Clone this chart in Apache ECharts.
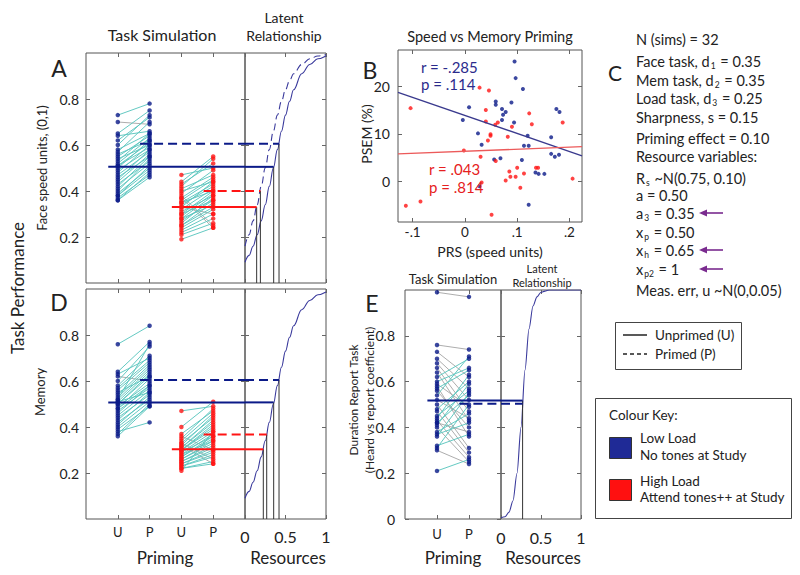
<!DOCTYPE html>
<html><head><meta charset="utf-8">
<script src="https://cdn.jsdelivr.net/npm/echarts@6/dist/echarts.min.js"></script>
<style>html,body{margin:0;padding:0;background:#fff}#c{width:800px;height:575px}</style>
</head><body><div id="c"></div>
<script>
// ---------------- DATA ----------------
const primingCats = ['U', 'P', 'U', 'P'];
const resourceTicks = [0, 0.5, 1];
const perfTicks = [0.2, 0.4, 0.6, 0.8];
const perfTicksE = [0, 0.2, 0.4, 0.6, 0.8];

// Panel A (Face speed units)
const aLowU  = [0.73,0.70,0.65,0.64,0.62,0.60,0.58,0.57,0.56,0.55,0.54,0.53,0.52,0.51,0.51,0.50,0.49,0.48,0.47,0.46,0.45,0.44,0.43,0.42,0.41,0.40,0.39,0.38,0.38,0.37,0.36,0.36];
const aLowP  = [0.78,0.69,0.75,0.66,0.72,0.73,0.65,0.70,0.62,0.64,0.60,0.65,0.63,0.59,0.61,0.62,0.58,0.60,0.57,0.55,0.58,0.56,0.53,0.55,0.52,0.54,0.50,0.51,0.49,0.47,0.48,0.46];
const aHighU = [0.47,0.44,0.43,0.42,0.41,0.40,0.39,0.38,0.37,0.37,0.36,0.35,0.35,0.34,0.33,0.33,0.32,0.31,0.30,0.30,0.29,0.28,0.28,0.27,0.26,0.25,0.25,0.24,0.23,0.22,0.21,0.19];
const aHighP = [0.50,0.55,0.52,0.54,0.47,0.44,0.49,0.25,0.46,0.24,0.45,0.43,0.40,0.42,0.30,0.44,0.41,0.38,0.40,0.36,0.39,0.38,0.34,0.36,0.37,0.35,0.33,0.32,0.30,0.28,0.26,0.24];
// mean levels: lowU, lowP, highU, highP ; resources where they meet the latent curve
const aMeanLevels = [0.505, 0.605, 0.33, 0.40];
const aMeanResources = [0.354, 0.42, 0.144, 0.19];

// Panel D (Memory)
const dLowU  = [0.76,0.64,0.63,0.62,0.60,0.58,0.57,0.56,0.55,0.54,0.53,0.52,0.52,0.51,0.51,0.50,0.50,0.49,0.48,0.48,0.47,0.46,0.45,0.44,0.43,0.42,0.41,0.40,0.39,0.38,0.37,0.36];
const dLowP  = [0.84,0.77,0.70,0.60,0.75,0.71,0.69,0.68,0.62,0.67,0.66,0.76,0.65,0.64,0.55,0.63,0.62,0.59,0.58,0.61,0.57,0.58,0.56,0.54,0.55,0.52,0.53,0.51,0.49,0.42,0.50,0.49];
const dHighU = [0.47,0.40,0.37,0.36,0.35,0.34,0.33,0.33,0.32,0.32,0.31,0.31,0.30,0.30,0.30,0.29,0.29,0.28,0.28,0.27,0.27,0.26,0.26,0.25,0.25,0.24,0.24,0.23,0.23,0.22,0.22,0.21];
const dHighP = [0.49,0.51,0.47,0.30,0.48,0.46,0.26,0.44,0.24,0.45,0.43,0.42,0.41,0.40,0.39,0.38,0.36,0.37,0.34,0.35,0.36,0.33,0.34,0.31,0.32,0.30,0.29,0.27,0.28,0.24,0.25,0.38];
const dMeanLevels = [0.507, 0.604, 0.303, 0.367];
const dMeanResources = [0.354, 0.42, 0.226, 0.268];

// Panel E (Duration report task)
const eLowU = [0.99,0.76,0.73,0.70,0.68,0.66,0.64,0.62,0.60,0.59,0.58,0.57,0.56,0.54,0.52,0.50,0.48,0.47,0.45,0.44,0.43,0.42,0.42,0.41,0.40,0.38,0.37,0.36,0.32,0.31,0.30,0.21];
const eLowP = [0.97,0.74,0.62,0.57,0.52,0.47,0.43,0.70,0.66,0.49,0.36,0.65,0.40,0.71,0.44,0.31,0.60,0.29,0.56,0.63,0.27,0.54,0.38,0.59,0.25,0.46,0.42,0.55,0.37,0.50,0.24,0.26];
const eMeanLevels = [0.517, 0.503];
const eMeanResources = [0.27, 0.27];

// Latent curves
const latentX      = [0,0.05,0.1,0.15,0.2,0.25,0.3,0.35,0.4,0.45,0.5,0.55,0.6,0.7,0.8,0.9,1];
const curveUnprimed = [0.09,0.12,0.16,0.21,0.27,0.34,0.42,0.50,0.58,0.66,0.73,0.79,0.84,0.91,0.95,0.975,0.987];
const curvePrimedA  = [0.16,0.21,0.27,0.34,0.42,0.50,0.58,0.66,0.73,0.79,0.84,0.88,0.91,0.95,0.975,0.987,0.993];
const curveE        = [0.005,0.01,0.03,0.08,0.2,0.4,0.65,0.83,0.93,0.97,0.99,0.995,1,1,1,1,1];

// Panel B scatter: [PRS, PSEM]
const bLow = [[0.095,25.2],[0.097,21.7],[0.111,19.4],[0.008,15.6],[-0.004,12.9],[0.059,16.8],[0.059,16.1],[0.071,15.2],[0.078,14.6],[0.089,16.6],[0.175,15.2],[0.181,14.6],[0.094,12.4],[0.071,12.9],[0.025,10.1],[0.120,9.6],[0.165,9.3],[0.032,7.7],[0.113,7.5],[0.122,7.5],[0.165,5.8],[0.172,5.2],[0.180,5.6],[0.068,4.9],[0.056,4.6],[0.109,4.5],[0.135,1.9],[0.141,1.6],[0.152,1.6],[0.028,-1.0],[0.122,-4.9],[0.073,14.0]];
const bHigh = [[-0.113,-5.1],[-0.085,-4.2],[-0.104,15.4],[-0.002,6.5],[0.028,19.7],[0.046,19.1],[0.040,15.0],[0.040,12.6],[0.058,11.9],[0.063,12.4],[0.030,5.2],[0.044,8.6],[0.049,9.6],[0.049,9.9],[0.059,4.3],[0.090,11.5],[0.082,9.4],[0.128,12.0],[0.123,14.3],[0.187,12.4],[0.206,0.6],[0.100,2.9],[0.097,1.0],[0.085,2.1],[0.078,0.2],[0.087,1.0],[0.113,1.7],[0.106,-1.3],[0.136,2.9],[0.140,2.9],[0.032,-0.2],[0.051,-7.0]];
const bLowFit = [[-0.128,18.7],[0.224,5.4]];
const bHighFit = [[-0.128,5.8],[0.224,7.3]];
const bXTicks = [-0.1, 0, 0.1, 0.2];
const bYTicks = [0, 10, 20];

// ---------------- STYLE ----------------
const FONT = 'Lato, "Open Sans", sans-serif';
const TXT = '#222';
const NAVY = '#0b1a88';
const RED = '#ff1414';
const TEAL = '#5cc6bf';
const GRAY = '#a9a9a9';
const CURVE = '#3a3a9c';
const START = 0.3;

const grids = [
  {left:86, top:53, width:159, height:230},   // 0 A task
  {left:245, top:53, width:81, height:230},   // 1 A latent
  {left:398, top:50, width:184, height:172},  // 2 B
  {left:86, top:289, width:159, height:230},  // 3 D task
  {left:245, top:289, width:81, height:230},  // 4 D latent
  {left:405, top:290, width:96, height:229},  // 5 E task
  {left:501, top:290, width:80, height:229}   // 6 E latent
].map(g => Object.assign(g, {show:true, borderColor:'#555', borderWidth:1, backgroundColor:'transparent', containLabel:false}));

const xAxes = [], yAxes = [];
function tick(vals){ return {show:true, inside:true, length:4, customValues:vals, lineStyle:{color:'#666', width:1}}; }
function addAxes(gi, xr, xt, xlab, xLabStyle, yr, yt, ylab, yLabStyle) {
  const base = {type:'value', axisLine:{show:false, onZero:false}, splitLine:{show:false}, axisPointer:{show:false}};
  xAxes.push(Object.assign({}, base, {gridIndex:gi, position:'bottom', min:xr[0], max:xr[1], axisTick:tick(xt),
    axisLabel: xlab ? Object.assign({show:true, customValues:xt, formatter:xlab, color:TXT, fontFamily:FONT}, xLabStyle) : {show:false}}));
  xAxes.push(Object.assign({}, base, {gridIndex:gi, position:'top', min:xr[0], max:xr[1], axisTick:tick(xt), axisLabel:{show:false}}));
  yAxes.push(Object.assign({}, base, {gridIndex:gi, position:'left', min:yr[0], max:yr[1], axisTick:tick(yt),
    axisLabel: ylab ? Object.assign({show:true, customValues:yt, formatter:ylab, color:TXT, fontFamily:FONT}, yLabStyle) : {show:false}}));
  yAxes.push(Object.assign({}, base, {gridIndex:gi, position:'right', min:yr[0], max:yr[1], axisTick:tick(yt), axisLabel:{show:false}}));
}
const catFmt = v => primingCats[Math.round(v) - 1] || '';
const perfFmt = v => v === 0 ? '0' : v.toFixed(1);
const resFmt = v => String(v);
const bxFmt = v => v === 0 ? '0' : (v < 0 ? '-' + String(Math.abs(v)).replace(/^0/, '') : String(v).replace(/^0/, ''));

addAxes(0, [0,5], [1,2,3,4], null, null, [0,1], perfTicks, perfFmt, {fontSize:14, margin:7});
addAxes(1, [0,1], resourceTicks, null, null, [0,1], perfTicks, null, null);
addAxes(2, [-0.128,0.224], bXTicks, bxFmt, {fontSize:13.5, margin:3, lineHeight:14}, [-8.5,27.6], bYTicks, v => String(v), {fontSize:14, margin:8});
addAxes(3, [0,5], [1,2,3,4], catFmt, {fontSize:13, margin:6}, [0,1], perfTicks, perfFmt, {fontSize:14, margin:7});
addAxes(4, [0,1], resourceTicks, resFmt, {fontSize:16, margin:9}, [0,1], perfTicks, null, null);
addAxes(5, [0,3], [1,2], catFmt, {fontSize:13, margin:8}, [0,1], perfTicksE, perfFmt, {fontSize:14, margin:10});
addAxes(6, [0,1], resourceTicks, resFmt, {fontSize:16, margin:10}, [0,1], perfTicks, null, null);

const series = [];
function ax(gi){ return {xAxisIndex:2*gi, yAxisIndex:2*gi}; }
function pairLines(us, ps, xu, xp, gi, up) {
  const data = [];
  us.forEach((u, i) => { const p = ps[i]; if ((p >= u) === up) data.push({coords:[[xu,u],[xp,p]]}); });
  series.push(Object.assign({type:'lines', coordinateSystem:'cartesian2d', data, silent:true, z:2,
    lineStyle:{color: up ? TEAL : GRAY, width:1, opacity:0.95, curveness:0}}, ax(gi)));
}
function dots(vals, x, gi, color) {
  series.push(Object.assign({type:'scatter', data: vals.map(v => [x, v]), symbolSize:4.5, itemStyle:{color}, silent:true, z:3}, ax(gi)));
}
function seg(points, gi, color, width, type, z) {
  series.push(Object.assign({type:'line', data:points, symbol:'none', silent:true, z: z || 4,
    lineStyle:{color, width, type: type || 'solid'}}, ax(gi)));
}
function curve(ys, gi, type) {
  series.push(Object.assign({type:'line', data: latentX.map((x, i) => [x, ys[i]]), symbol:'none', smooth:0.4, smoothMonotone:'x', silent:true, z:3,
    lineStyle:{color:CURVE, width:1.1, type: type || 'solid'}}, ax(gi)));
}
function taskPanel(gt, gl, lowU, lowP, highU, highP, levels, res, withPrimedCurve) {
  pairLines(lowU, lowP, 1, 2, gt, false); pairLines(lowU, lowP, 1, 2, gt, true);
  pairLines(highU, highP, 3, 4, gt, false); pairLines(highU, highP, 3, 4, gt, true);
  dots(lowU, 1, gt, NAVY); dots(lowP, 2, gt, NAVY); dots(highU, 3, gt, RED); dots(highP, 4, gt, RED);
  curve(curveUnprimed, gl);
  if (withPrimedCurve) curve(curvePrimedA, gl, [7, 4]);
  const cols = [NAVY, NAVY, RED, RED], xs = [1, 2, 3, 4], dash = ['solid', [9, 5], 'solid', [9, 5]];
  levels.forEach((m, i) => {
    seg([[xs[i] - START, m], [5, m]], gt, cols[i], 2, dash[i], 5);
    seg([[0, m], [res[i], m]], gl, cols[i], 2, dash[i], 5);
    seg([[res[i], m], [res[i], 0]], gl, '#333', 1, 'solid', 4);
  });
}
taskPanel(0, 1, aLowU, aLowP, aHighU, aHighP, aMeanLevels, aMeanResources, true);
taskPanel(3, 4, dLowU, dLowP, dHighU, dHighP, dMeanLevels, dMeanResources, false);

// Panel E
pairLines(eLowU, eLowP, 1, 2, 5, false); pairLines(eLowU, eLowP, 1, 2, 5, true);
dots(eLowU, 1, 5, NAVY); dots(eLowP, 2, 5, NAVY);
series.push(Object.assign({type:'line', data: latentX.map((x, i) => [x, curveE[i]]), symbol:'none', smooth:0.3, smoothMonotone:'x', silent:true, z:3,
  lineStyle:{color:CURVE, width:1.1}}, ax(6)));
seg([[1 - START, eMeanLevels[0]], [3, eMeanLevels[0]]], 5, NAVY, 2, 'solid', 5);
seg([[0, eMeanLevels[0]], [eMeanResources[0], eMeanLevels[0]]], 6, NAVY, 2, 'solid', 5);
seg([[2 - START, eMeanLevels[1]], [3, eMeanLevels[1]]], 5, NAVY, 2, [9, 5], 5);
seg([[0, eMeanLevels[1]], [eMeanResources[1], eMeanLevels[1]]], 6, NAVY, 2, [9, 5], 5);
seg([[eMeanResources[0], eMeanLevels[0]], [eMeanResources[0], 0]], 6, '#333', 1, 'solid', 4);

// Panel B
series.push(Object.assign({type:'scatter', data:bLow, symbolSize:4, itemStyle:{color:NAVY}, silent:true, z:3}, ax(2)));
series.push(Object.assign({type:'scatter', data:bHigh, symbolSize:4, itemStyle:{color:RED}, silent:true, z:3}, ax(2)));
seg(bLowFit, 2, '#3a3a8e', 1.3, 'solid', 4);
seg(bHighFit, 2, '#ec5a5a', 1.3, 'solid', 4);

// ---------------- TEXT / ANNOTATIONS ----------------
const g = [];
function t(text, x, y, size, opts) {
  const o = opts || {};
  g.push({type:'text', x, y, rotation: o.rot || 0, z: 100,
    style:{text, fill: o.color || TXT, font: (o.weight || 'normal') + ' ' + size + 'px ' + FONT,
      textAlign: o.align || 'center', textVerticalAlign:'middle', rich: o.rich}});
}
// titles
t('Task Simulation', 162, 34, 16);
t('Latent', 284, 17, 14);
t('Relationship', 284, 35, 14);
t('Speed vs Memory Priming', 490, 36, 14.5);
t('Task Simulation', 453, 279, 13);
t('Latent', 542, 268, 11);
t('Relationship', 542, 282, 11);
// panel letters
t('A', 59, 68, 23); t('B', 370, 70, 23); t('C', 615, 72, 21); t('D', 59, 302, 23); t('E', 372, 303, 23);
// axis titles
t('Task Performance', 17, 288, 17, {rot: Math.PI / 2});
t('Face speed units, (0,1)', 42, 168, 13, {rot: Math.PI / 2});
t('Memory', 40, 392, 13, {rot: Math.PI / 2});
t('Duration Report Task', 353, 400, 12, {rot: Math.PI / 2});
t('(Heard vs report coefficient)', 369, 400, 12, {rot: Math.PI / 2});
t('PSEM (%)', 366, 134, 14, {rot: Math.PI / 2});
t('PRS (speed units)', 490, 251, 14);
t('Priming', 165, 557, 17); t('Resources', 288, 557, 17);
t('Priming', 453, 557, 17); t('Resources', 543, 557, 17);
// B annotations
t('r = -.285', 421, 67, 15, {align:'left', color:'#2b2b8c'});
t('p = .114', 421, 84, 15, {align:'left', color:'#2b2b8c'});
t('r = .043', 429, 169, 15, {align:'left', color:'#e62020'});
t('p = .814', 429, 187, 15, {align:'left', color:'#e62020'});
// Panel C parameters
const sub = {s: {fontSize: 8.5, fontFamily: FONT, fill: TXT, padding: [9, 1, 0, 1]}};
const cLines = [
  ['N (sims) = 32', 39], ['Face task, d{s|1} = 0.35', 61], ['Mem task, d{s|2} = 0.35', 80],
  ['Load task, d{s|3} = 0.25', 98], ['Sharpness, s = 0.15', 117], ['Priming effect = 0.10', 138],
  ['Resource variables:', 156], ['R{s|s} ~N(0.75, 0.10)', 178], ['a = 0.50', 195], ['a{s|3} = 0.35', 213],
  ['x{s|p} = 0.50', 232], ['x{s|h} = 0.65', 250], ['x{s|p2} = 1', 269], ['Meas. err, u ~N(0,0.05)', 290]
];
cLines.forEach(([s, y]) => t(s, 636, y, 14.5, {align:'left', rich: sub}));
[213, 250, 269].forEach(y => {
  g.push({type:'line', shape:{x1:704, y1:y, x2:723, y2:y}, style:{stroke:'#7a2b8f', lineWidth:1.6}, z:100});
  g.push({type:'polygon', shape:{points:[[699, y], [707, y - 3.5], [707, y + 3.5]]}, style:{fill:'#7a2b8f'}, z:100});
});
// legend box 1
g.push({type:'rect', shape:{x:615.5, y:322.5, width:126, height:47}, style:{fill:'#fff', stroke:'#444', lineWidth:1}, z:90});
g.push({type:'line', shape:{x1:623, y1:335, x2:647, y2:335}, style:{stroke:'#222', lineWidth:1.5}, z:100});
g.push({type:'line', shape:{x1:623, y1:354, x2:647, y2:354}, style:{stroke:'#222', lineWidth:1.5, lineDash:[4, 3]}, z:100});
t('Unprimed (U)', 655, 335, 13.5, {align:'left'});
t('Primed (P)', 655, 354, 13.5, {align:'left'});
// legend box 2
g.push({type:'rect', shape:{x:595.5, y:398.5, width:196, height:120}, style:{fill:'#fff', stroke:'#444', lineWidth:1}, z:90});
t('Colour Key:', 609, 415, 13.5, {align:'left'});
g.push({type:'rect', shape:{x:609.5, y:437.5, width:22, height:21}, style:{fill:'#1f2a96', stroke:'#333', lineWidth:1}, z:100});
g.push({type:'rect', shape:{x:609.5, y:479.5, width:22, height:21}, style:{fill:'#ff1010', stroke:'#333', lineWidth:1}, z:100});
t('Low Load', 640, 438, 13.5, {align:'left'});
t('No tones at Study', 640, 455, 13.5, {align:'left'});
t('High Load', 640, 481, 13.5, {align:'left'});
t('Attend tones++ at Study', 640, 497, 13.5, {align:'left'});

const chart = echarts.init(document.getElementById('c'), null, {renderer:'svg', width:800, height:575});
chart.setOption({
  animation:false,
  backgroundColor:'#fff',
  textStyle:{fontFamily:FONT},
  grid:grids, xAxis:xAxes, yAxis:yAxes, series, graphic:{elements:g}
});
</script></body></html>
